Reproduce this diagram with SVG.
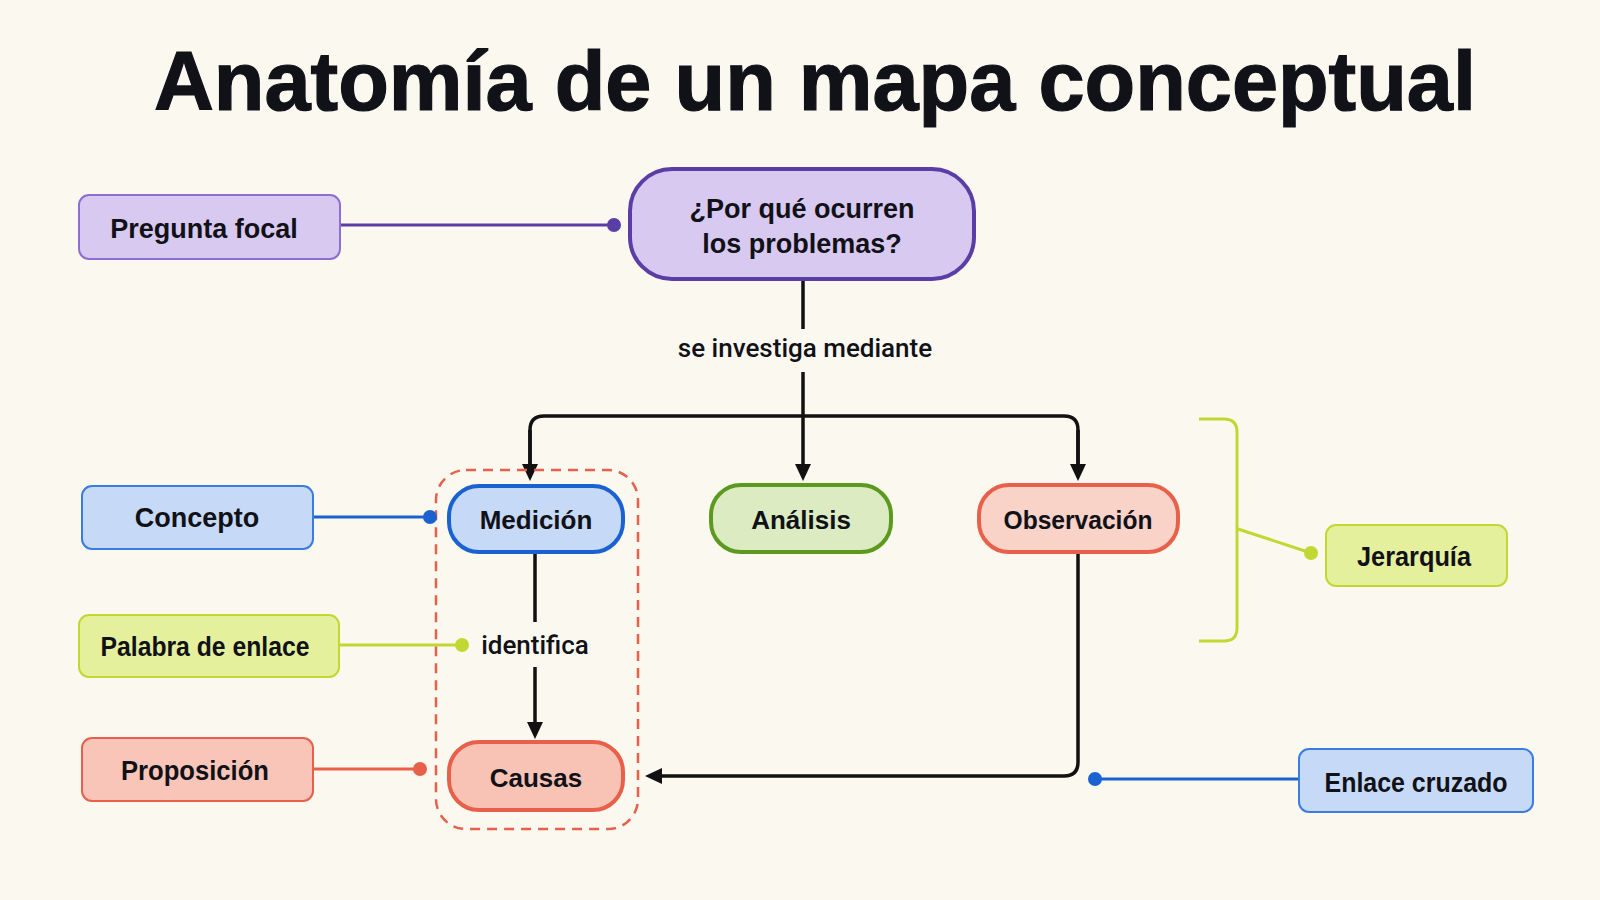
<svg xmlns="http://www.w3.org/2000/svg" width="1600" height="900" viewBox="0 0 1600 900">
<style>
.t{font-family:"Liberation Sans",Arial,sans-serif;font-weight:bold;fill:#111118;text-anchor:middle}
.title{font-size:83px;stroke:#111118;stroke-width:1.2}
.lg{font-size:27px}
.nd{font-size:26px}
.lk{font-family:Roboto,"Liberation Sans",sans-serif;font-weight:500;font-size:26px;fill:#111118;text-anchor:middle}
.conn{fill:none;stroke:#111;stroke-width:3.5;stroke-linejoin:round}
</style>
<defs>
<marker id="ah" markerUnits="userSpaceOnUse" markerWidth="18" markerHeight="18" viewBox="0 0 18 18" refX="6" refY="9" orient="auto">
<path d="M0,1 L17,9 L0,17 z" fill="#111"/>
</marker>
</defs>
<rect width="1600" height="900" fill="#fbf8ef"/>
<text class="t title" x="815" y="110" textLength="1322" lengthAdjust="spacingAndGlyphs">Anatomía de un mapa conceptual</text>

<g id="connectors">
<path class="conn" d="M803,279 V329"/>
<path class="conn" d="M803,372 V470" marker-end="url(#ah)"/>
<path class="conn" d="M530,470 V430 Q530,416 544,416 H1064 Q1078,416 1078,430 V470" />
<path class="conn" d="M530,430 V470" marker-end="url(#ah)"/>
<path class="conn" d="M1078,430 V470" marker-end="url(#ah)"/>
<path class="conn" d="M535,552 V622"/>
<path class="conn" d="M535,667 V728" marker-end="url(#ah)"/>
<path class="conn" d="M1078,552 V762 Q1078,776 1064,776 H656" marker-end="url(#ah)"/>
<text class="lk" x="805" y="357">se investiga mediante</text>
<text class="lk" x="535" y="654">identifica</text>
</g>

<g id="dashed-group">
<rect x="436" y="470" width="202" height="359" rx="30" fill="none" stroke="#e8604a" stroke-width="2.5" stroke-dasharray="10 7"/>
</g>

<g id="node-question">
<rect x="630" y="169" width="344" height="110" rx="42" fill="#d8c9f1" stroke="#5b3da6" stroke-width="4"/>
<text class="t lg" x="802" y="218">¿Por qué ocurren</text>
<text class="t lg" x="802" y="253">los problemas?</text>
</g>
<g id="node-medicion">
<rect x="449" y="486" width="174" height="66" rx="30" fill="#c6d9f7" stroke="#1a62d0" stroke-width="4"/>
<text class="t nd" x="536" y="529">Medición</text>
</g>
<g id="node-analisis">
<rect x="711" y="485" width="180" height="67" rx="30" fill="#dcebc2" stroke="#5b9a1e" stroke-width="4"/>
<text class="t nd" x="801" y="529">Análisis</text>
</g>
<g id="node-observacion">
<rect x="979" y="485" width="199" height="67" rx="30" fill="#f9d2c8" stroke="#e8604a" stroke-width="4"/>
<text class="t nd" x="1078" y="529" textLength="149" lengthAdjust="spacingAndGlyphs">Observación</text>
</g>
<g id="node-causas">
<rect x="449" y="742" width="174" height="68" rx="30" fill="#f8c3b5" stroke="#e8604a" stroke-width="4"/>
<text class="t nd" x="536" y="787">Causas</text>
</g>

<g id="legend-pregunta">
<line x1="340" y1="225" x2="614" y2="225" stroke="#5b3da6" stroke-width="3"/>
<circle cx="614" cy="225" r="7" fill="#5b3da6"/>
<rect x="79" y="195" width="261" height="64" rx="10" fill="#d8c9f1" stroke="#8c6fd0" stroke-width="2"/>
<text class="t lg" x="204" y="238">Pregunta focal</text>
</g>
<g id="legend-concepto">
<line x1="313" y1="517" x2="430" y2="517" stroke="#1a62d0" stroke-width="3"/>
<circle cx="430" cy="517" r="7" fill="#1a62d0"/>
<rect x="82" y="486" width="231" height="63" rx="10" fill="#c6d9f7" stroke="#3a7de0" stroke-width="2"/>
<text class="t lg" x="197" y="527">Concepto</text>
</g>
<g id="legend-palabra">
<line x1="339" y1="645" x2="462" y2="645" stroke="#c2d832" stroke-width="3"/>
<circle cx="462" cy="645" r="7" fill="#c2d832"/>
<rect x="79" y="615" width="260" height="62" rx="10" fill="#e5f09c" stroke="#c2d832" stroke-width="2"/>
<text class="t lg" x="205" y="656" textLength="209" lengthAdjust="spacingAndGlyphs">Palabra de enlace</text>
</g>
<g id="legend-proposicion">
<line x1="313" y1="769" x2="420" y2="769" stroke="#e8604a" stroke-width="3"/>
<circle cx="420" cy="769" r="7" fill="#e8604a"/>
<rect x="82" y="738" width="231" height="63" rx="10" fill="#f9c5b8" stroke="#e8604a" stroke-width="2"/>
<text class="t lg" x="195" y="780" textLength="148" lengthAdjust="spacingAndGlyphs">Proposición</text>
</g>
<g id="legend-jerarquia">
<path d="M1199,419 H1224 Q1237,419 1237,432 V628 Q1237,641 1224,641 H1199" fill="none" stroke="#c2d832" stroke-width="3"/>
<line x1="1238" y1="529" x2="1311" y2="553" stroke="#c2d832" stroke-width="3"/>
<circle cx="1311" cy="553" r="7" fill="#c2d832"/>
<rect x="1326" y="525" width="181" height="61" rx="10" fill="#e5f09c" stroke="#c2d832" stroke-width="2"/>
<text class="t lg" x="1414" y="566" textLength="114" lengthAdjust="spacingAndGlyphs">Jerarquía</text>
</g>
<g id="legend-enlace">
<line x1="1095" y1="779" x2="1299" y2="779" stroke="#1a62d0" stroke-width="3"/>
<circle cx="1095" cy="779" r="7" fill="#1a62d0"/>
<rect x="1299" y="749" width="234" height="63" rx="10" fill="#c6d9f7" stroke="#3a7de0" stroke-width="2"/>
<text class="t lg" x="1416" y="792" textLength="183" lengthAdjust="spacingAndGlyphs">Enlace cruzado</text>
</g>
</svg>
